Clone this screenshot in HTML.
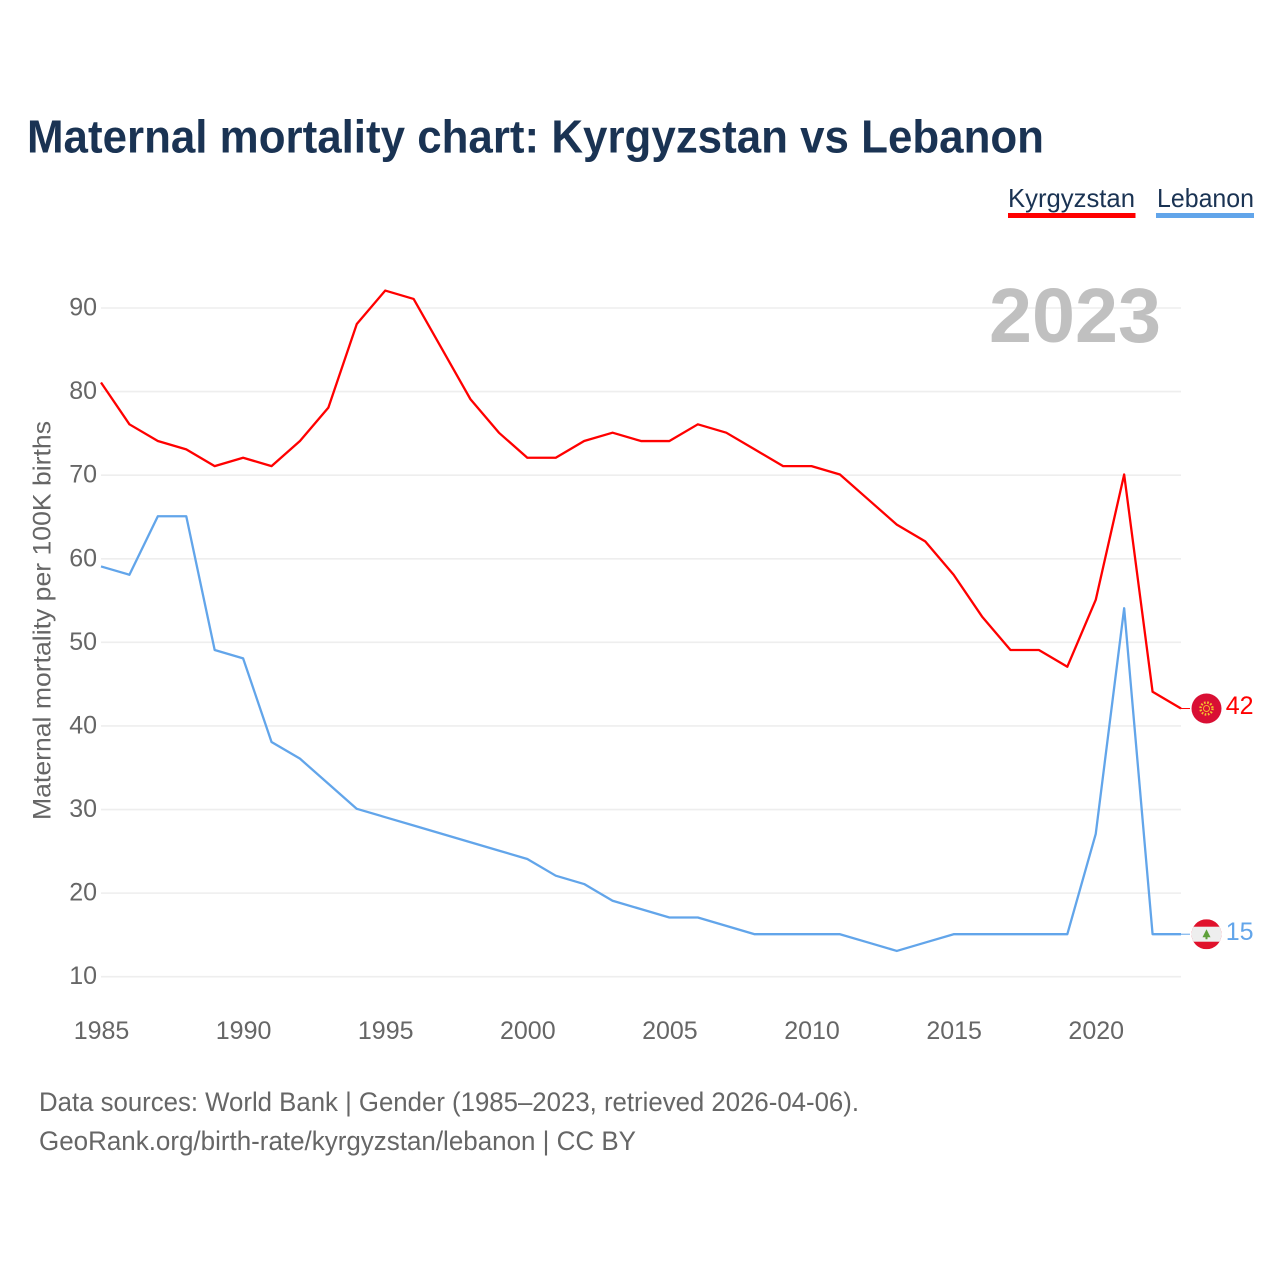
<!DOCTYPE html>
<html lang="en">
<head>
<meta charset="utf-8">
<title>Maternal mortality chart: Kyrgyzstan vs Lebanon</title>
<style>
html,body{margin:0;padding:0;background:#fff;}
svg{display:block;font-family:"Liberation Sans",sans-serif;}
</style>
</head>
<body>
<svg id="chart" xmlns="http://www.w3.org/2000/svg" width="1280" height="1280" viewBox="0 0 1280 1280">
  <rect x="0" y="0" width="1280" height="1280" fill="#ffffff"/>
  <text x="27" y="152.5" font-size="46" font-weight="700" fill="#1a3353" textLength="1017" lengthAdjust="spacingAndGlyphs">Maternal mortality chart: Kyrgyzstan vs Lebanon</text>

  <g>
    <text x="1008" y="207" font-size="26" fill="#1a3353" textLength="127" lengthAdjust="spacingAndGlyphs">Kyrgyzstan</text>
    <rect x="1008" y="213" width="127.5" height="5" fill="#ff0000"/>
  </g>
  <g>
    <text x="1157" y="207" font-size="26" fill="#1a3353" textLength="97" lengthAdjust="spacingAndGlyphs">Lebanon</text>
    <rect x="1156" y="213" width="98" height="5" fill="#62a5ea"/>
  </g>

  <g id="grid"></g>
  <g id="yticks"></g>
  <g id="xticks"></g>

  <text transform="translate(50.5,820) rotate(-90)" x="0" y="0" font-size="25" fill="#666666" textLength="399" lengthAdjust="spacingAndGlyphs">Maternal mortality per 100K births</text>
  <text x="1161" y="342" font-size="77" font-weight="700" fill="#c0c0c0" text-anchor="end" textLength="172" lengthAdjust="spacingAndGlyphs">2023</text>

  <g id="series" transform="translate(-0.5,-0.7)"></g>

  <g id="flag-kg">
    <circle cx="0" cy="0" r="15" fill="#d90f34"/>
    <circle cx="0" cy="0" r="6" fill="none" stroke="#f5c52e" stroke-width="2.4" stroke-dasharray="1.6 1.6"/>
    <circle cx="0" cy="0" r="3" fill="none" stroke="#f5b52e" stroke-width="1"/>
  </g>
  <g id="flag-lb">
    <clipPath id="lb-clip"><circle cx="0" cy="0" r="15"/></clipPath>
    <g clip-path="url(#lb-clip)">
      <rect x="-15" y="-15" width="30" height="30" fill="#e0112b"/>
      <rect x="-15" y="-7.5" width="30" height="15" fill="#eeeeee"/>
      <polygon points="0,-5 4,3 1,3 1,5 -1,5 -1,3 -4,3" fill="#5fa03a"/>
    </g>
  </g>

  <g id="endlabels"></g>

  <text x="39" y="1111" font-size="26.5" fill="#666666" textLength="820" lengthAdjust="spacingAndGlyphs">Data sources: World Bank | Gender (1985–2023, retrieved 2026-04-06).</text>
  <text x="39" y="1150" font-size="26.5" fill="#666666" textLength="597" lengthAdjust="spacingAndGlyphs">GeoRank.org/birth-rate/kyrgyzstan/lebanon | CC BY</text>
</svg>
<script>
const years = [1985,1986,1987,1988,1989,1990,1991,1992,1993,1994,1995,1996,1997,1998,1999,2000,2001,2002,2003,2004,2005,2006,2007,2008,2009,2010,2011,2012,2013,2014,2015,2016,2017,2018,2019,2020,2021,2022,2023];
const kyrgyzstanValues = [81,76,74,73,71,72,71,74,78,88,92,91,85,79,75,72,72,74,75,74,74,76,75,73,71,71,70,67,64,62,58,53,49,49,47,55,70,44,42];
const lebanonValues = [59,58,65,65,49,48,38,36,33,30,29,28,27,26,25,24,22,21,19,18,17,17,16,15,15,15,15,14,13,14,15,15,15,15,15,27,54,15,15];
const yTickLabels = [10,20,30,40,50,60,70,80,90];
const xTickLabels = [1985,1990,1995,2000,2005,2010,2015,2020];

const SVGNS = 'http://www.w3.org/2000/svg';
const xScale = function (year) { return 101.5 + (year - 1985) * (1181.5 - 101.5) / (2023 - 1985); };
const yScale = function (v) { return 976.7 - (v - 10) * (976.7 - 308) / 80; };

function make(tag, attrs, parent) {
  const el = document.createElementNS(SVGNS, tag);
  Object.keys(attrs).forEach(function (k) { el.setAttribute(k, attrs[k]); });
  parent.appendChild(el);
  return el;
}

const gridGroup = document.getElementById('grid');
const yTickGroup = document.getElementById('yticks');
const xTickGroup = document.getElementById('xticks');
const seriesGroup = document.getElementById('series');
const endGroup = document.getElementById('endlabels');

yTickLabels.forEach(function (v) {
  const line = make('line', {x1: 101, x2: 1181, y1: yScale(v), y2: yScale(v), stroke: '#eeeeee', 'stroke-width': 1.6}, gridGroup);
  
  
  const label = make('text', {x: 97, y: yScale(v) + 7.5, 'font-size': 25, fill: '#666666', 'text-anchor': 'end'}, yTickGroup);
  label.textContent = String(v);
  
  
});

xTickLabels.forEach(function (yr) {
  const label = make('text', {x: xScale(yr), y: 1039, 'font-size': 25, fill: '#666666', 'text-anchor': 'middle'}, xTickGroup);
  label.textContent = String(yr);
  
  
});

function drawSeries(values, color, key, flagId) {
  const pts = values.map(function (v, i) { return xScale(years[i]).toFixed(2) + ',' + yScale(v).toFixed(2); }).join(' ');
  const line = make('polyline', {points: pts, fill: 'none', stroke: color, 'stroke-width': 2.3, 'stroke-linejoin': 'round'}, seriesGroup);
  
  
  const last = values[values.length - 1];
  const endX = xScale(years[years.length - 1]);
  const endY = yScale(last);
  const conn = make('line', {x1: endX, x2: endX + 9, y1: endY, y2: endY, stroke: color, 'stroke-width': 1}, seriesGroup);
  
  
  document.getElementById(flagId).setAttribute('transform', 'translate(1206.5,' + (endY - 0.7) + ')');
  const label = make('text', {x: 1253.5, y: endY + 5, 'font-size': 25, fill: color, 'text-anchor': 'end'}, endGroup);
  label.textContent = String(last);
  
  
}

drawSeries(kyrgyzstanValues, '#ff0000', 'kyrgyzstan', 'flag-kg');
drawSeries(lebanonValues, '#62a5ea', 'lebanon', 'flag-lb');
</script>
</body>
</html>
